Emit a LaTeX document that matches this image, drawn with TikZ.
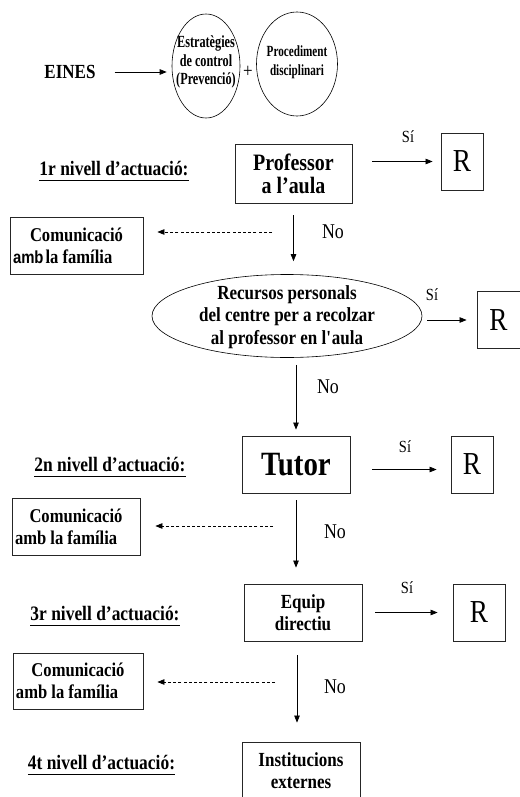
\documentclass[tikz,border=0pt]{standalone}
\usepackage{fontspec}
\setmainfont{Liberation Serif}[FakeStretch=0.85]
\setsansfont{Liberation Sans}[FakeStretch=0.85]
\newfontfamily\condfont{Liberation Serif}[FakeStretch=0.72]
\usetikzlibrary{arrows.meta,shapes.geometric}
\newcommand\fsz[2]{\fontsize{#1}{#2}\selectfont}
\newcommand\ulab[1]{\setbox0\hbox{#1}\rlap{\rule[-6pt]{\wd0}{1.2pt}}\box0}
\newcommand\ctext[2][-3pt]{\makebox[0pt]{\raisebox{#1}{\smash{\begin{tabular}{@{}c@{}}#2\end{tabular}}}}}
\tikzset{
  box/.style={draw=black!85, line width=0.8pt, inner sep=0pt, align=center},
  combox/.style={draw=black!85, line width=0.8pt, inner xsep=3pt, inner ysep=0pt, align=left, font=\bfseries\fsz{19.5}{22}},
  ell/.style={draw, ellipse, line width=0.6pt, inner sep=0pt},
  arr/.style={-{Triangle[length=7pt,width=5.5pt]}, line width=0.7pt},
  dsh/.style={arr, dash pattern=on 3pt off 2.2pt},
  lbl/.style={inner sep=0pt},
  lvl/.style={inner sep=0pt, anchor=base, font=\bfseries\fsz{20.5}{22}},
  sitxt/.style={inner sep=0pt, font=\fsz{17}{17}},
  notxt/.style={inner sep=0pt, font=\fsz{21}{21}},
  rbox/.style={box, minimum height=57pt, font=\fsz{32}{32}}
}
\begin{document}
\begin{tikzpicture}[x=1pt,y=-1pt]
\useasboundingbox (0,0) rectangle (519,797);

% top row
\node[lbl, font=\bfseries\fsz{20}{22}] (eines) at (70,72) {EINES};
\node[ell, minimum width=68pt, minimum height=104pt] (e1) at (206,66)
  {\condfont\bfseries\fsz{17}{18.5}\ctext[-2pt]{Estratègies\\de control\\(Prevenció)}};
\node[lbl, font=\fsz{20}{20}] (plus) at (248,72) {+};
\node[ell, minimum width=81pt, minimum height=104pt] (e2) at (297,64)
  {\condfont\bfseries\fsz{15.5}{19}\ctext[-4pt]{Procediment\\disciplinari}};
\draw[arr, shorten <=19pt, shorten >=5pt] (eines.east) -- (eines.east -| e1.west);

% level 1
\node[lvl] (l1) at (114,175) {\ulab{1r nivell d’actuació:}};
\node[box, minimum width=117pt, minimum height=59pt, font=\bfseries\fsz{23.5}{23}] (prof) at (293.5,173.5) {Professor\\a l’aula};
\node[rbox, minimum width=42pt] (r1) at (462,161.5) {R};
\node[sitxt] (si1) at (408,137) {Sí};
\draw[arr, shorten <=20pt, shorten >=8pt] (prof.east |- r1.west) -- (r1.west);

\node[combox, minimum width=133pt, minimum height=57pt] (com1) at (76.5,245.5)
  {\makebox[127pt]{Comunicació}\\{\sffamily\fsz{17.5}{22}amb}\hspace{2pt}la família};
\coordinate (ds1) at (272,232);
\draw[dsh, shorten >=14pt] (ds1) -- (ds1 -| com1.east);
\node[notxt] (no1) at (333,232) {No};

% recursos
\node[ell, minimum width=270pt, minimum height=83pt] (rec) at (287,316)
  {\bfseries\fsz{20}{22.5}\ctext[-13pt]{Recursos personals\\del centre per a recolzar\\al professor en l\textquotesingle aula}};
\draw[arr, shorten <=12pt, shorten >=13pt] (prof.south) -- (prof.south |- rec.north);
\node[rbox, minimum width=43pt] (r2) at (498.5,320) {R};
\node[sitxt] (si2) at (432,295) {Sí};
\draw[arr, shorten <=5pt, shorten >=10pt] (rec.east |- r2.west) -- (r2.west);
\node[notxt] (no2) at (328,387) {No};

% level 2
\node[box, minimum width=108pt, minimum height=57pt, font=\bfseries\fsz{34}{34}] (tut) at (296,464.5) {Tutor};
\draw[arr, shorten <=7pt, shorten >=6pt] (tut.north |- rec.south) -- (tut.north);
\node[lvl] (l2) at (110,471) {\ulab{2n nivell d’actuació:}};
\node[rbox, minimum width=42pt] (r3) at (472,464.5) {R};
\node[sitxt] (si3) at (405,447) {Sí};
\draw[arr, shorten <=22pt, shorten >=14pt] ([yshift=-5pt]tut.east) -- ([yshift=-5pt]r3.west);

\node[combox, minimum width=128pt, minimum height=57pt] (com2) at (76,526.5)
  {\makebox[122pt]{Comunicació}\\amb la família};
\coordinate (ds2) at (273,526);
\draw[dsh, shorten >=15pt] (ds2) -- (ds2 -| com2.east);
\node[notxt] (no3) at (335,532) {No};

% level 3
\node[box, minimum width=118pt, minimum height=57pt, font=\bfseries\fsz{20}{22}] (equ) at (303,612.5) {Equip\\directiu};
\draw[arr, shorten <=7pt, shorten >=16pt] (tut.south) -- (tut.south |- equ.north);
\node[lvl] (l3) at (105,620) {\ulab{3r nivell d’actuació:}};
\node[rbox, minimum width=52pt] (r4) at (479,612.5) {R};
\node[sitxt] (si4) at (407,588) {Sí};
\draw[arr, shorten <=13pt, shorten >=15pt] (equ.east) -- (r4.west);

\node[combox, minimum width=130pt, minimum height=56pt] (com3) at (78,681)
  {\makebox[124pt]{Comunicació}\\amb la família};
\coordinate (ds3) at (275,682);
\draw[dsh, shorten >=14pt] (ds3) -- (ds3 -| com3.east);
\node[notxt] (no4) at (335,687) {No};

% level 4
\node[box, minimum width=118pt, minimum height=58pt, font=\bfseries\fsz{20}{22}] (ins) at (301,771) {Institucions\\externes};
\draw[arr, shorten <=14pt, shorten >=19pt] ([xshift=-6pt]equ.south) -- ([xshift=-4pt]ins.north);
\node[lvl] (l4) at (101.5,769) {\ulab{4t nivell d’actuació:}};
\end{tikzpicture}
\end{document}
